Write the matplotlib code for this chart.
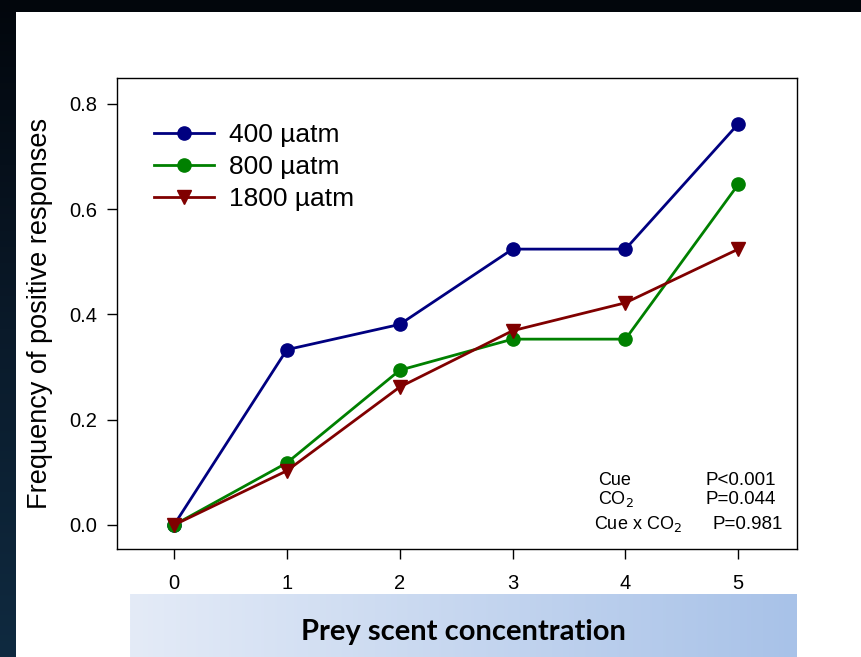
import matplotlib
matplotlib.use("Agg")
import matplotlib.pyplot as plt
import numpy as np
from matplotlib.colors import LinearSegmentedColormap

plt.rcParams['font.family'] = ['Liberation Sans', 'DejaVu Sans']

# data
conc = [0, 1, 2, 3, 4, 5]
co2_400 = [0.0, 0.333, 0.381, 0.524, 0.524, 0.762]
co2_800 = [0.0, 0.118, 0.294, 0.353, 0.353, 0.647]
co2_1800 = [0.0, 0.103, 0.262, 0.369, 0.422, 0.524]
labels = ["400 µatm", "800 µatm", "1800 µatm"]
stats_terms = ["Cue", "CO$_2$", "Cue x CO$_2$"]
stats_p = ["P<0.001", "P=0.044", "P=0.981"]

W, H = 861, 657
fig = plt.figure(figsize=(W / 100, H / 100), dpi=100)
fig.patch.set_facecolor("white")

# dark slide frame: top band + left gradient strip
top = fig.add_axes([0, 1 - 12 / H, 1, 12 / H])
top.axis("off")
top.add_patch(plt.Rectangle((0, 0), 1, 1, color="#02060c", transform=top.transAxes))
left = fig.add_axes([0, 0, 16 / W, 1])
left.axis("off")
cmap_side = LinearSegmentedColormap.from_list("side", ["#02060c", "#0a1a2a", "#0f2a40"])
left.imshow(np.linspace(0, 1, 256).reshape(-1, 1), aspect="auto", cmap=cmap_side,
            extent=[0, 1, 0, 1], origin="upper")

# x label band
band = fig.add_axes([130 / W, 0, (797 - 130) / W, (657 - 594) / H])
band.axis("off")
cmap_band = LinearSegmentedColormap.from_list("band", ["#e4ebf7", "#a8c2e8"])
band.imshow(np.linspace(0, 1, 256).reshape(1, -1), aspect="auto", cmap=cmap_band,
            extent=[0, 1, 0, 1])
band.text(0.5, 0.4, "Prey scent concentration", transform=band.transAxes,
          ha="center", va="center", fontsize=21, fontweight="bold",
          family=["Lato", "DejaVu Sans"], color="black")

ax = fig.add_axes([117 / W, (H - 549) / H, (797 - 117) / W, (549 - 78) / H])
ax.plot(conc, co2_400, color="#000080", marker="o", markersize=9.5, lw=2, label=labels[0], zorder=3)
ax.plot(conc, co2_800, color="#008000", marker="o", markersize=9.5, lw=2, label=labels[1], zorder=3)
ax.plot(conc, co2_1800, color="#800000", marker="v", markersize=10.5, lw=2, label=labels[2], zorder=3)

ax.set_xlim(-0.505, 5.52)
ax.set_ylim(-0.0456, 0.849)
ax.set_xticks(conc)
ax.set_yticks([0.0, 0.2, 0.4, 0.6, 0.8])
ax.set_yticklabels(["0.0", "0.2", "0.4", "0.6", "0.8"])
ax.tick_params(direction="out", length=7, width=1, labelsize=14.5, pad=7)
ax.tick_params(axis="x", pad=11)
for s in ax.spines.values():
    s.set_linewidth(1)
ax.set_ylabel("Frequency of positive responses", fontsize=19.5, labelpad=12)

ax.legend(loc="upper left", bbox_to_anchor=(0.02, 0.955), frameon=False, fontsize=19,
          handlelength=2.27, labelspacing=0.3, handletextpad=0.57)

stats_y = [0.146, 0.106, 0.053]
for i, (t, p) in enumerate(zip(stats_terms, stats_p)):
    ax.text(0.707 if i < 2 else 0.701, stats_y[i], t, transform=ax.transAxes,
            fontsize=13, va="center")
    ax.text(0.866 if i < 2 else 0.876, stats_y[i], p, transform=ax.transAxes,
            fontsize=13.5, va="center")

fig.savefig("out.png", dpi=100)
